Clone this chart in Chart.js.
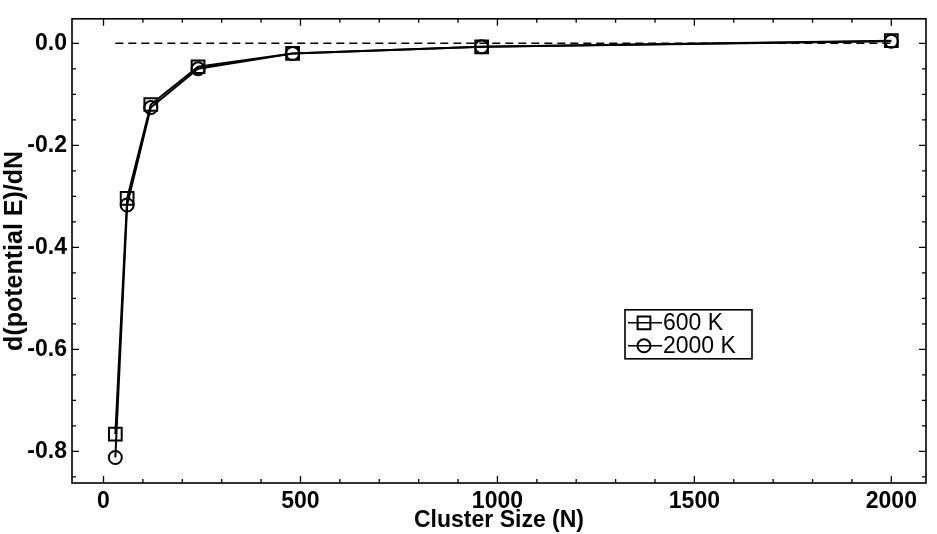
<!DOCTYPE html>
<html>
<head>
<meta charset="utf-8">
<script src="https://cdn.jsdelivr.net/npm/chart.js@4.4.1/dist/chart.umd.min.js"></script>
<style>
  html, body { margin: 0; padding: 0; background: #fff; }
  #wrap { width: 937px; height: 534px; position: relative; }
</style>
</head>
<body>
<div id="wrap"><canvas id="c" width="937" height="534"></canvas></div>
<script>
// Cluster sizes N and d(potential E)/dN at two temperatures
const clusterSizes = [30, 60, 120, 240, 480, 960, 2000];
const slope600K  = [-0.766, -0.304, -0.120, -0.046, -0.020, -0.007, 0.005];
const slope2000K = [-0.812, -0.317, -0.126, -0.050, -0.020, -0.007, 0.004];
const seriesNames = ['600 K', '2000 K'];

// Zero reference line
const zeroLineX = [30, 2000];
const zeroLineY = [0, 0];

// Axis ticks
const xTickValues = [0, 500, 1000, 1500, 2000];
const yTickValues = [0.0, -0.2, -0.4, -0.6, -0.8];
const xMinorStep = 100;
const yMinorStep = 0.05;

const FONT = '"Liberation Sans", Arial, Helvetica, sans-serif';

const toPoints = (xs, ys) => xs.map((x, i) => ({ x: x, y: ys[i] }));

// Inward tick marks on all four sides, plus the frame
const frameTicks = {
  id: 'frameTicks',
  afterDraw(chart) {
    const { ctx, chartArea: a, scales } = chart;
    const xs = scales.x, ys = scales.y;
    ctx.save();
    ctx.strokeStyle = '#000';
    ctx.lineWidth = 1.6;
    ctx.strokeRect(a.left, a.top, a.right - a.left, a.bottom - a.top);
    ctx.lineWidth = 1.3;
    const major = 7, minor = 4;
    for (let v = 0; v <= 2000 + 1e-9; v += xMinorStep) {
      const px = xs.getPixelForValue(v);
      const len = xTickValues.includes(Math.round(v)) ? major : minor;
      ctx.beginPath();
      ctx.moveTo(px, a.bottom); ctx.lineTo(px, a.bottom - len);
      ctx.moveTo(px, a.top); ctx.lineTo(px, a.top + len);
      ctx.stroke();
    }
    for (let k = -17; k <= 0; k++) {
      const v = k * yMinorStep;
      const py = ys.getPixelForValue(v);
      const len = (k % 4 === 0) ? major : minor;
      ctx.beginPath();
      ctx.moveTo(a.left, py); ctx.lineTo(a.left + len, py);
      ctx.moveTo(a.right, py); ctx.lineTo(a.right - len, py);
      ctx.stroke();
    }
    ctx.restore();
  }
};

// Boxed legend with line-and-marker samples
const boxedLegend = {
  id: 'boxedLegend',
  afterDraw(chart) {
    const { ctx, chartArea: a } = chart;
    const bx = a.left + 553, by = a.top + 291, bw = 127, bh = 49;
    ctx.save();
    ctx.fillStyle = '#fff';
    ctx.fillRect(bx, by, bw, bh);
    ctx.strokeStyle = '#000';
    ctx.lineWidth = 1.6;
    ctx.strokeRect(bx, by, bw, bh);
    [1, 2].forEach((di, i) => {
      const ds = chart.data.datasets[di];
      const cy = by + 13 + i * 23;
      ctx.strokeStyle = '#000';
      ctx.lineWidth = 1.6;
      ctx.beginPath();
      ctx.moveTo(bx + 3, cy); ctx.lineTo(bx + 37, cy);
      ctx.stroke();
      ctx.fillStyle = 'rgba(0,0,0,0)';
      ctx.lineWidth = 2;
      Chart.helpers.drawPoint(ctx, {
        pointStyle: ds.pointStyle, radius: ds.pointRadius, borderWidth: 2
      }, bx + 19, cy);
      ctx.fillStyle = '#000';
      ctx.font = '23px ' + FONT;
      ctx.textBaseline = 'middle';
      ctx.textAlign = 'left';
      ctx.fillText(ds.label, bx + 38, cy + 1);
    });
    ctx.restore();
  }
};

new Chart(document.getElementById('c'), {
  type: 'scatter',
  data: {
    datasets: [
      {
        label: 'zero',
        data: toPoints(zeroLineX, zeroLineY),
        showLine: true,
        borderColor: '#000',
        borderWidth: 1.5,
        borderDash: [8, 5],
        pointRadius: 0
      },
      {
        label: seriesNames[0],
        data: toPoints(clusterSizes, slope600K),
        showLine: true,
        borderColor: '#000',
        borderWidth: 2,
        pointStyle: 'rect',
        pointRadius: 9,
        pointBorderWidth: 2,
        pointBackgroundColor: 'rgba(0,0,0,0)',
        pointBorderColor: '#000'
      },
      {
        label: seriesNames[1],
        data: toPoints(clusterSizes, slope2000K),
        showLine: true,
        borderColor: '#000',
        borderWidth: 2,
        pointStyle: 'circle',
        pointRadius: 6.5,
        pointBorderWidth: 2,
        pointBackgroundColor: 'rgba(0,0,0,0)',
        pointBorderColor: '#000'
      }
    ]
  },
  options: {
    responsive: false,
    animation: false,
    layout: { padding: { top: 13, right: 4, left: 0, bottom: 0 } },
    plugins: {
      legend: { display: false },
      tooltip: { enabled: false }
    },
    scales: {
      x: {
        type: 'linear',
        min: -80,
        max: 2088,
        afterBuildTicks: s => { s.ticks = xTickValues.map(v => ({ value: v })); },
        afterFit: s => { s.height = 51; },
        grid: { display: false, drawTicks: false, tickLength: 0 },
        border: { display: false },
        ticks: {
          color: '#000',
          padding: 5,
          maxRotation: 0,
          font: { family: FONT, size: 23, weight: 'bold' },
          callback: v => String(v)
        },
        title: {
          display: true,
          text: 'Cluster Size (N)',
          color: '#000',
          padding: { top: 0, bottom: 0 },
          font: { family: FONT, size: 23, weight: 'bold' }
        }
      },
      y: {
        type: 'linear',
        min: -0.862,
        max: 0.048,
        afterBuildTicks: s => { s.ticks = yTickValues.map(v => ({ value: v })); },
        afterFit: s => { s.width = 72; },
        grid: { display: false, drawTicks: false, tickLength: 0 },
        border: { display: false },
        ticks: {
          color: '#000',
          padding: 5,
          font: { family: FONT, size: 23, weight: 'bold' },
          callback: v => v.toFixed(1)
        },
        title: {
          display: true,
          text: 'd(potential E)/dN',
          color: '#000',
          padding: { top: 0, bottom: 0 },
          font: { family: FONT, size: 25, weight: 'bold' }
        }
      }
    }
  },
  plugins: [frameTicks, boxedLegend]
});
</script>
</body>
</html>
